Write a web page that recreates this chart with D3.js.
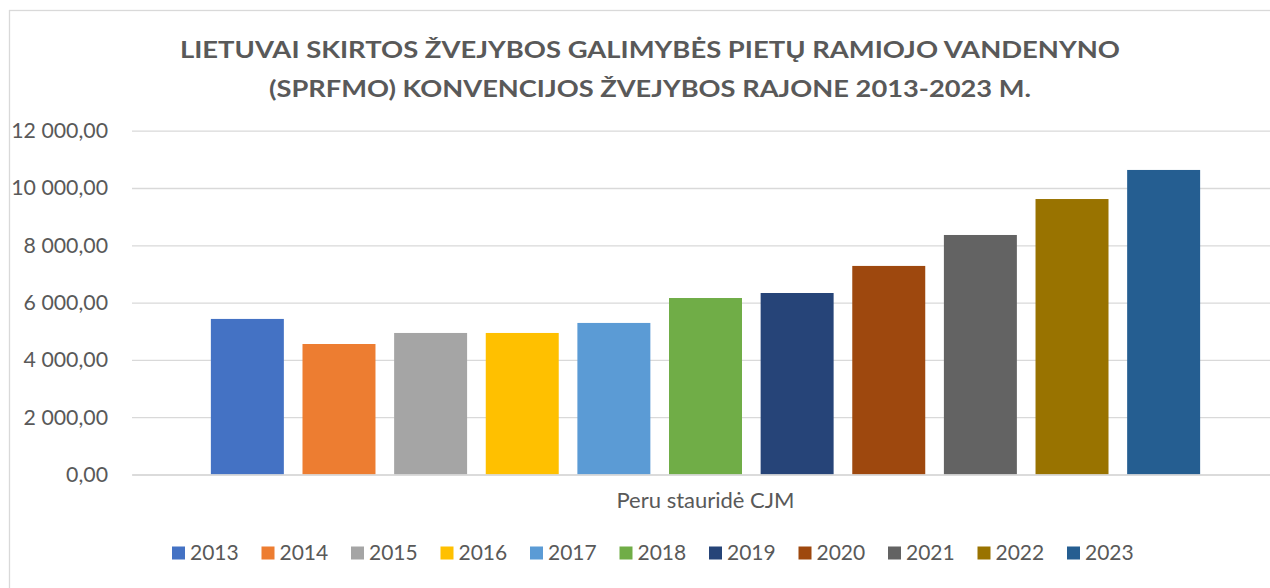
<!DOCTYPE html>
<html>
<head>
<meta charset="utf-8">
<script src="https://cdn.jsdelivr.net/npm/d3@7"></script>
<style>
  html, body { margin: 0; padding: 0; background: #fff; }
  svg { display: block; font-family: Lato, "Open Sans", sans-serif; }
</style>
</head>
<body>
<svg id="chart" width="1270" height="588"></svg>
<script>
// chart data
const categories = ['Peru stauridė CJM'];
const years = ['2013', '2014', '2015', '2016', '2017', '2018', '2019', '2020', '2021', '2022', '2023'];
const quotas = [5430, 4555, 4940, 4940, 5290, 6160, 6335, 7280, 8360, 9615, 10630];
const colors = ['#4472c4', '#ed7d31', '#a5a5a5', '#ffc000', '#5b9bd5', '#70ad47',
                '#264478', '#9e480e', '#636363', '#997300', '#255e91'];
const yTicks = [0, 2000, 4000, 6000, 8000, 10000, 12000];
const titleLines = [
  'LIETUVAI SKIRTOS ŽVEJYBOS GALIMYBĖS PIETŲ RAMIOJO VANDENYNO',
  '(SPRFMO) KONVENCIJOS ŽVEJYBOS RAJONE 2013-2023 M.'
];

const svg = d3.select('#chart');
const textColor = '#595959';

// plot area (extends a little past the right edge, as in the original)
const plot = { left: 132, right: 1279, top: 130.7, bottom: 474.5 };

const lt = d3.formatLocale({ decimal: ',', thousands: '\u00a0', grouping: [3] });
const fmt = lt.format(',.2f');

const y = d3.scaleLinear().domain([0, 12000]).range([plot.bottom, plot.top]);

const x0 = d3.scaleBand()
  .domain(categories)
  .range([plot.left, plot.right])
  .paddingOuter(0.069);

const x1 = d3.scaleBand()
  .domain(years)
  .range([0, x0.bandwidth()])
  .paddingInner(0.2035)
  .paddingOuter(0.10175);

const color = d3.scaleOrdinal().domain(years).range(colors);

// outer frame
svg.append('rect')
  .attr('x', 9.5).attr('y', 10.5)
  .attr('width', 1300).attr('height', 600)
  .attr('fill', 'none')
  .attr('stroke', '#d9d9d9')
  .attr('stroke-width', 1.3);

// title, stretched to the measured widths
const titleWidths = [940, 762];
svg.append('g').selectAll('text')
  .data(titleLines)
  .join('text')
  .attr('x', 650)
  .attr('y', (d, i) => 58 + i * 39)
  .attr('text-anchor', 'middle')
  .attr('fill', textColor)
  .attr('font-weight', 'bold')
  .attr('font-size', 23)
  .attr('textLength', (d, i) => titleWidths[i])
  .attr('lengthAdjust', 'spacingAndGlyphs')
  .text(d => d);

// gridlines + y labels
const yAxis = d3.axisLeft(y)
  .tickValues(yTicks)
  .tickSize(-(plot.right - plot.left))
  .tickPadding(24)
  .tickFormat(fmt);

const gy = svg.append('g')
  .attr('transform', `translate(${plot.left},0)`)
  .call(yAxis);
gy.select('.domain').remove();
gy.selectAll('.tick line').attr('stroke', '#d9d9d9').attr('stroke-width', 1.3);
gy.selectAll('.tick text')
  .attr('fill', textColor)
  .attr('font-size', 21.3)
  .attr('font-family', 'Lato, sans-serif');

// bars
const groups = svg.append('g').selectAll('g')
  .data(categories)
  .join('g')
  .attr('transform', d => `translate(${x0(d)},0)`);

groups.selectAll('rect')
  .data(years.map((yr, i) => ({ year: yr, value: quotas[i] })))
  .join('rect')
  .attr('x', d => x1(d.year))
  .attr('width', x1.bandwidth())
  .attr('y', d => y(d.value))
  .attr('height', d => y(0) - y(d.value))
  .attr('fill', d => color(d.year));

// category axis
const xAxis = d3.axisBottom(x0).tickSize(0).tickPadding(22);
const gx = svg.append('g')
  .attr('transform', `translate(0,${plot.bottom})`)
  .call(xAxis);
gx.select('.domain').attr('stroke', '#d9d9d9').attr('stroke-width', 1.3);
gx.selectAll('.tick text')
  .attr('fill', textColor)
  .attr('font-size', 22)
  .attr('dy', '0.5em')
  .attr('font-family', 'Lato, sans-serif');

// legend
const legendX = 172, legendStep = 89.5, legendY = 553;
const legend = svg.append('g').selectAll('g')
  .data(years)
  .join('g')
  .attr('transform', (d, i) => `translate(${legendX + i * legendStep},${legendY})`);

legend.append('rect')
  .attr('x', 0).attr('y', -6.5)
  .attr('width', 13).attr('height', 13)
  .attr('fill', d => color(d));

legend.append('text')
  .attr('x', 18)
  .attr('y', 0)
  .attr('dy', '0.35em')
  .attr('fill', textColor)
  .attr('font-size', 21)
  .text(d => d);
</script>
</body>
</html>
